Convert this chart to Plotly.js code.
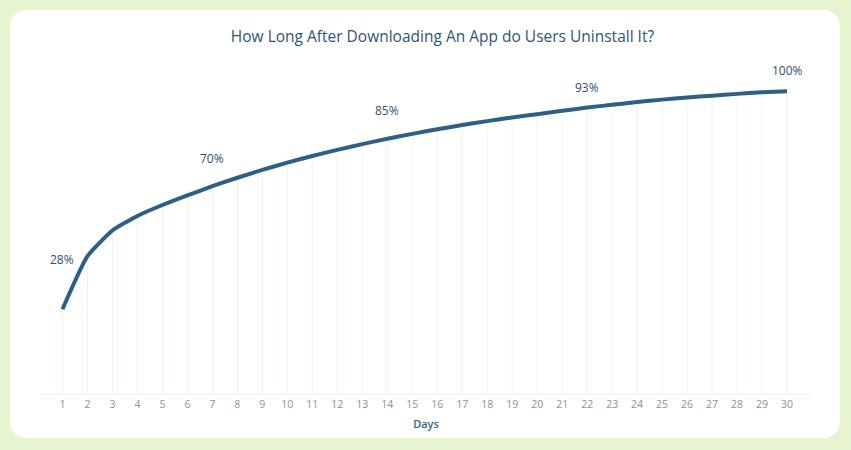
<!DOCTYPE html>
<html>
<head>
<meta charset="utf-8">
<script src="https://cdn.plot.ly/plotly-3.0.1.min.js"></script>
<style>
  html, body { margin: 0; padding: 0; }
  body { width: 851px; height: 450px; background: #e6f5cf; position: relative; overflow: hidden; }
  #card { position: absolute; left: 10px; top: 10px; width: 830px; height: 428px; background: #ffffff; border-radius: 16px; }
  #chart { position: absolute; left: 0; top: 0; width: 851px; height: 450px; }
</style>
</head>
<body>
<div id="card"></div>
<div id="chart"></div>
<script>
const days = [1,2,3,4,5,6,7,8,9,10,11,12,13,14,15,16,17,18,19,20,21,22,23,24,25,26,27,28,29,30];
const uninstallPct = [28,45.5,54,58.8,62.4,65.6,68.6,71.4,74,76.4,78.6,80.6,82.5,84.3,85.9,87.4,88.8,90.1,91.3,92.4,93.5,94.6,95.5,96.4,97.2,97.9,98.5,99.1,99.6,100];
const labelDays = [1, 7, 14, 22, 30];
const labelTexts = ["28%", "70%", "85%", "93%", "100%"];
const tickLabels = days.map(String);

const dropLines = {
  x: days, y: uninstallPct, type: 'scatter', mode: 'markers',
  marker: {size: 0.1, color: 'rgba(0,0,0,0)'},
  error_y: {type: 'data', symmetric: false, array: days.map(() => 0), arrayminus: uninstallPct,
            width: 0, thickness: 1, color: '#eef5e3'},
  hoverinfo: 'skip', showlegend: false
};
const line = {
  x: days, y: uninstallPct, type: 'scatter', mode: 'lines',
  line: {color: '#2d5f87', width: 4, shape: 'spline', smoothing: 0.5},
  showlegend: false
};

const shifts = [50, 28, 28, 20, 21];
const annotations = labelDays.map((d, i) => ({
  x: d, y: uninstallPct[days.indexOf(d)], text: labelTexts[i], showarrow: false,
  yshift: shifts[i], font: {family: 'Open Sans, sans-serif', size: 12, color: '#2f4f6b'}
}));

const layout = {
  width: 851, height: 450,
  paper_bgcolor: 'rgba(0,0,0,0)', plot_bgcolor: 'rgba(0,0,0,0)',
  margin: {l: 40, r: 39, t: 76, b: 56},
  title: {text: 'How Long After Downloading An App do Users Uninstall It?', x: 0.52, xanchor: 'center', y: 0.918, yanchor: 'middle',
          font: {family: 'Open Sans, sans-serif', size: 15.5, color: '#2f5575'}},
  xaxis: {range: [0.1, 31], tickmode: 'array', tickvals: days, ticktext: tickLabels,
          showgrid: false, zeroline: false, showline: true, linecolor: '#eef4e6', linewidth: 1,
          ticks: '', tickfont: {family: 'Open Sans, sans-serif', size: 10.5, color: '#8b9298'},
          title: {text: 'Days', standoff: 10, font: {family: 'Open Sans, sans-serif', size: 11, color: '#3a6284', weight: 600}}},
  yaxis: {range: [0, 105], showgrid: false, zeroline: false, showticklabels: false, showline: false},
  annotations: annotations,
  showlegend: false
};
Plotly.newPlot('chart', [dropLines, line], layout, {displayModeBar: false, staticPlot: true});
</script>
</body>
</html>
